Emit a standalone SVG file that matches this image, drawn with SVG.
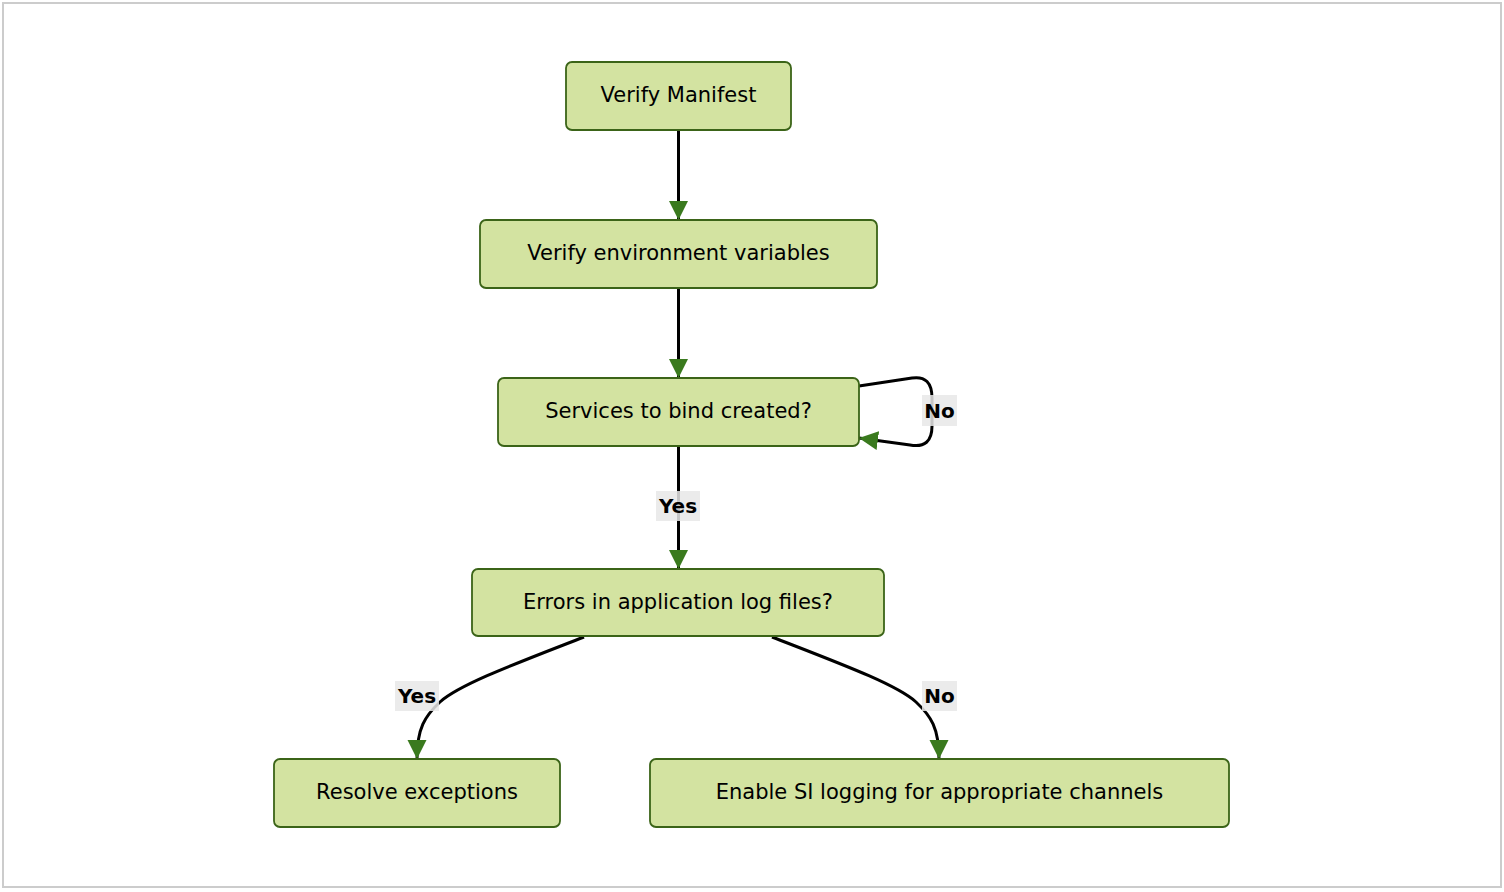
<svg xmlns="http://www.w3.org/2000/svg" width="1504" height="892" viewBox="0 0 1504 892">
<defs>
<style>
.node rect{fill:#d3e3a1;stroke:#3b6418;stroke-width:1.8}
.node text{font-family:"DejaVu Sans",sans-serif;font-size:21px;fill:#000;text-anchor:middle;dominant-baseline:central}
.edge{fill:none;stroke:#000;stroke-width:3}
.lbl rect{fill:#e8e8e8;opacity:0.85}
.lbl text{font-family:"DejaVu Sans",sans-serif;font-size:20px;font-weight:bold;fill:#000;text-anchor:middle;dominant-baseline:central}
</style>
<marker id="ah" viewBox="0 0 10 10" refX="10" refY="5" markerUnits="userSpaceOnUse" markerWidth="19" markerHeight="20" orient="auto">
<path d="M0,0 L10,5 L0,10 z" fill="#3a7a1e"/>
</marker>
</defs>
<rect x="3" y="3" width="1498" height="884" fill="#fff" stroke="#cccccc" stroke-width="2"/>
<g id="connectors">
<path class="edge" d="M678.5,130 L678.5,220" marker-end="url(#ah)"/>
<path class="edge" d="M678.5,288 L678.5,378" marker-end="url(#ah)"/>
<path class="edge" d="M678.5,446 L678.5,569" marker-end="url(#ah)"/>
<path class="edge" d="M859,386 L912,378 Q932,375 932,398 L932,426 Q932,449 910,445 L859,438" marker-end="url(#ah)"/>
<path class="edge" d="M584,637 C520,662 460,684 440,702 C425,716 417,728 417,759" marker-end="url(#ah)"/>
<path class="edge" d="M772,637 C836,662 896,684 916,702 C931,716 939,728 939,759" marker-end="url(#ah)"/>
</g>
<g id="labels">
<g class="lbl"><rect x="656" y="491" width="44" height="30"/><text x="678" y="506">Yes</text></g>
<g class="lbl"><rect x="922" y="395" width="35" height="31"/><text x="939.5" y="410.5">No</text></g>
<g class="lbl"><rect x="395" y="681" width="44" height="30"/><text x="417" y="696">Yes</text></g>
<g class="lbl"><rect x="922" y="681" width="35" height="30"/><text x="939.5" y="696">No</text></g>
</g>
<g id="n1" class="node"><rect x="566" y="62" width="225" height="68" rx="6"/><text x="678.5" y="95">Verify Manifest</text></g>
<g id="n2" class="node"><rect x="480" y="220" width="397" height="68" rx="6"/><text x="678.5" y="253">Verify environment variables</text></g>
<g id="n3" class="node"><rect x="498" y="378" width="361" height="68" rx="6"/><text x="678.5" y="411">Services to bind created?</text></g>
<g id="n4" class="node"><rect x="472" y="569" width="412" height="67" rx="6"/><text x="678" y="602">Errors in application log files?</text></g>
<g id="n5" class="node"><rect x="274" y="759" width="286" height="68" rx="6"/><text x="417" y="792">Resolve exceptions</text></g>
<g id="n6" class="node"><rect x="650" y="759" width="579" height="68" rx="6"/><text x="939.5" y="792">Enable SI logging for appropriate channels</text></g>
</svg>
